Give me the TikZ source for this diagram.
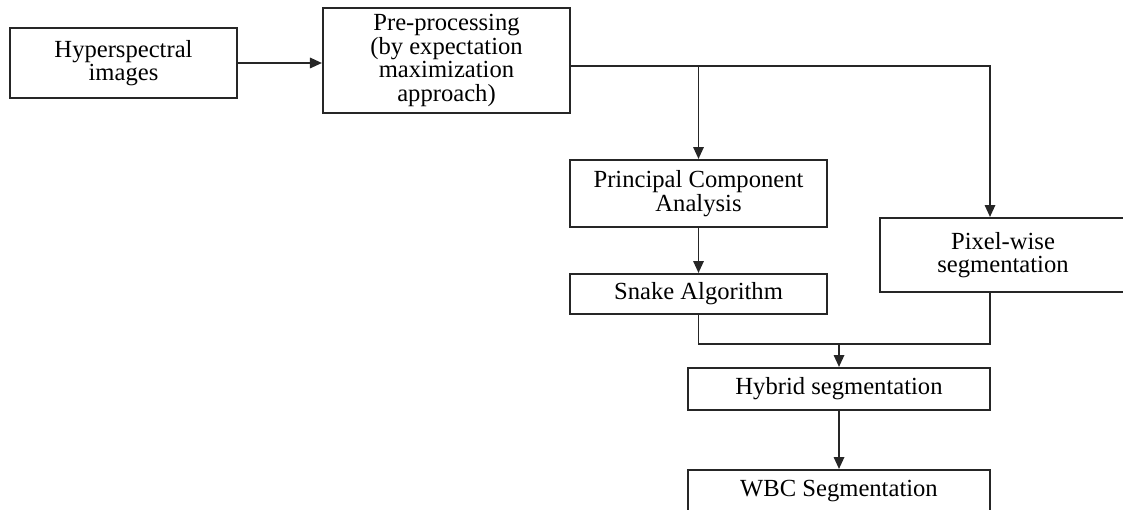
\documentclass[tikz,border=0pt]{standalone}
\usepackage{fontspec}
\setmainfont{Liberation Serif}
\usetikzlibrary{arrows.meta}
\definecolor{lineclr}{HTML}{262626}

\begin{document}
\begin{tikzpicture}[
  x=0.025cm, y=-0.025cm,
  stage/.style={rectangle, draw=lineclr, line width=1.4pt, fill=white, align=center,
                inner sep=2pt, font=\fontsize{17.5}{16.8}\selectfont},
  flow/.style={draw=lineclr, line width=1.4pt, -{Triangle[length=3mm, width=2.6mm]}},
  link/.style={draw=lineclr, line width=1.4pt},
]
\useasboundingbox (0,0) rectangle (1123,510);
% ---- input and pre-processing
\node[stage, minimum width=5.675cm, minimum height=1.75cm] (hsi) at (123.5, 63) {Hyperspectral\\images};
\node[stage, minimum width=6.175cm, minimum height=2.625cm] (pre) at (446.5, 60.5) {Pre-processing\\(by expectation\\maximization\\approach)};
\draw[flow] (hsi.east) -- (hsi.east -| pre.west);
% ---- two branches: PCA + snake, and pixel-wise
\node[stage, minimum width=6.425cm, minimum height=1.675cm] (pca) at (698.5, 193.5) {Principal Component\\Analysis};
\node[stage, minimum width=6.425cm, minimum height=1.0cm] (snake) at (698.5, 294) {Snake Algorithm};
\node[stage, minimum width=6.15cm, minimum height=1.85cm] (pix) at (1003, 255) {Pixel-wise\\segmentation};
\coordinate (split) at ([yshift=-1.375mm]pre.east);
\draw[flow] (split) -| ([xshift=-3.25mm]pix.north);
\draw[flow] (split -| pca.north) -- (pca.north);
\draw[flow] (pca.south) -- (snake.north);
% ---- merge into hybrid segmentation
\node[stage, minimum width=7.55cm, minimum height=1.05cm] (hyb) at (839, 389) {Hybrid segmentation};
\node[stage, minimum width=7.55cm, minimum height=1.05cm] (wbc) at (839, 491) {WBC Segmentation};
\coordinate (merge) at ([yshift=5.75mm]hyb.north);
\draw[link] (snake.south) |- ([xshift=-3.25mm]pix.south |- merge) -- ([xshift=-3.25mm]pix.south);
\draw[flow] (merge) -- (hyb.north);
\draw[flow] (hyb.south) -- (wbc.north);
\end{tikzpicture}
\end{document}
